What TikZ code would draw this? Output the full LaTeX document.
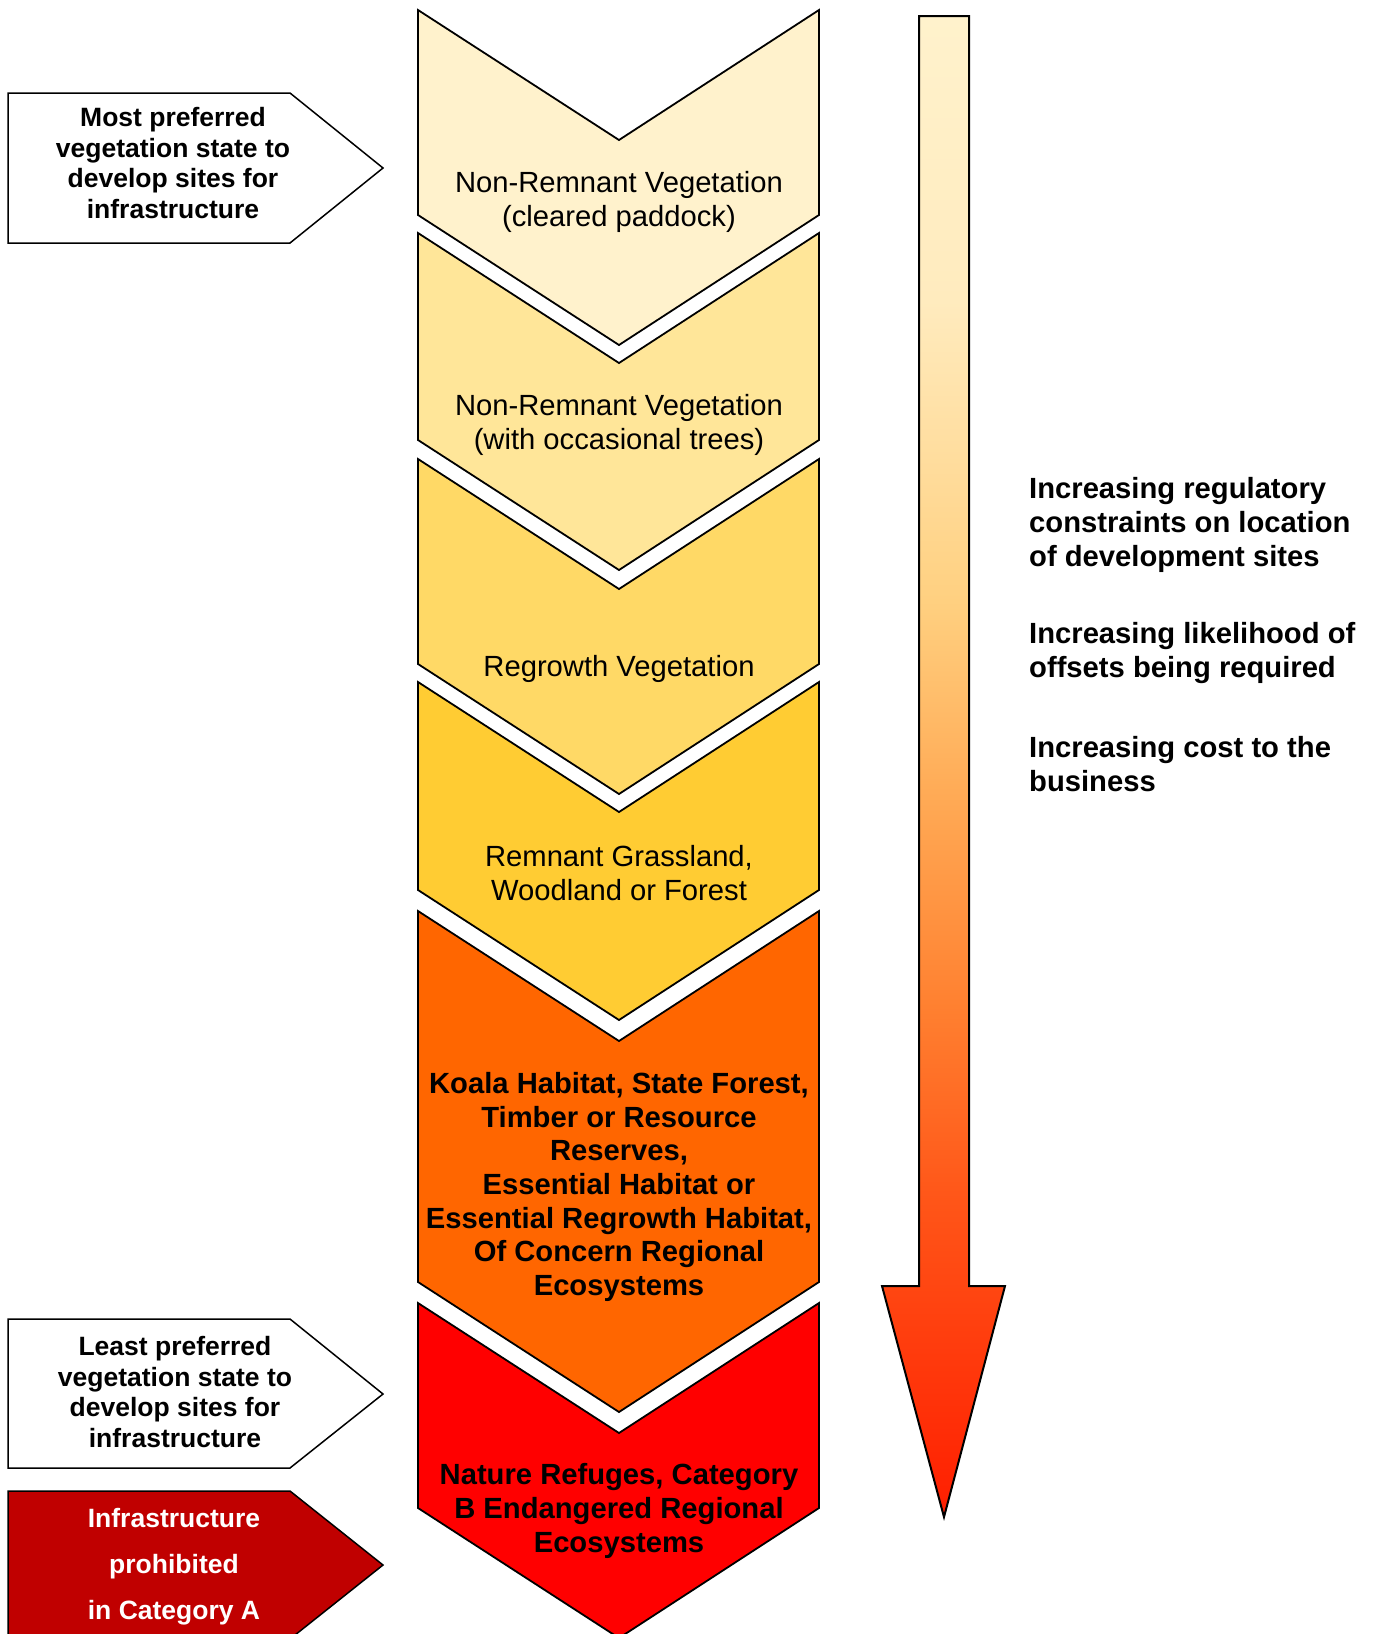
\documentclass[tikz,border=0pt]{standalone}
\usepackage{fontspec}
\setmainfont{Liberation Sans}
\definecolor{cA}{RGB}{255,242,204}
\definecolor{cB}{RGB}{255,230,153}
\definecolor{cC}{RGB}{255,217,102}
\definecolor{cD}{RGB}{255,204,51}
\definecolor{cE}{RGB}{255,102,0}
\definecolor{cF}{RGB}{255,0,0}
\definecolor{cG}{RGB}{192,0,0}
\definecolor{sT}{RGB}{255,242,204}
\definecolor{sa}{RGB}{255,235,190}
\definecolor{sb}{RGB}{255,208,128}
\definecolor{sc}{RGB}{255,170,85}
\definecolor{sd}{RGB}{255,128,48}
\definecolor{se}{RGB}{255,85,24}
\definecolor{sB}{RGB}{255,30,0}
\pgfdeclareverticalshading{arrowshade}{100bp}{color(0bp)=(sB); color(25bp)=(sB); color(35.5bp)=(se); color(42bp)=(sd); color(49bp)=(sc); color(55.5bp)=(sb); color(65.5bp)=(sa); color(75bp)=(sT); color(100bp)=(sT)}
\newcommand\mychev[3]{%
  \draw[chev, fill=#3] (418,#1) -- (619,{#1+130}) -- (819,#1) -- (819,#2) -- (619,{#2+130}) -- (418,#2) -- cycle;}
\begin{document}
\begin{tikzpicture}[x=1pt,y=-1pt,
  chev/.style={draw=black, line width=1.8pt, line join=miter},
  plaintext/.style={align=center, inner sep=0pt, font=\fontsize{29.2}{33.6}\selectfont},
  boldtext/.style={align=center, inner sep=0pt, font=\fontsize{29.2}{33.6}\selectfont\bfseries},
  sidetext/.style={align=left, inner sep=0pt, anchor=west, font=\fontsize{29.2}{33.6}\selectfont\bfseries},
  boxtext/.style={align=center, inner sep=0pt, font=\fontsize{26.5}{30.5}\selectfont\bfseries}]
\useasboundingbox (0,0) rectangle (1374,1634);
\fill[white] (0,0) rectangle (1374,1634);
% chevrons
\mychev{10}{215}{cA}
\mychev{233}{440}{cB}
\mychev{459}{664}{cC}
\mychev{682}{890}{cD}
\mychev{911}{1282}{cE}
\mychev{1303}{1508}{cF}
\node[plaintext] (t1) at (619,202) {Non-Remnant Vegetation\\(cleared paddock)};
\node[plaintext] (t2) at (619,425) {Non-Remnant Vegetation\\(with occasional trees)};
\node[plaintext] (t3) at (619,669) {Regrowth Vegetation};
\node[plaintext] (t4) at (619,873) {Remnant Grassland,\\Woodland or Forest};
\node[boldtext] (t5) at (619,1187) {Koala Habitat, State Forest,\\Timber or Resource\\Reserves,\\Essential Habitat or\\Essential Regrowth Habitat,\\Of Concern Regional\\Ecosystems};
\node[boldtext] (t6) at (619,1511) {Nature Refuges, Category\\B Endangered Regional\\Ecosystems};
% left boxes
\draw[line width=1.5pt, fill=white] (8,93) -- (290,93) -- (383,168) -- (290,243) -- (8,243) -- cycle;
\node[boxtext] (most) at (173,163) {Most preferred\\vegetation state to\\develop sites for\\infrastructure};
\draw[line width=1.5pt, fill=white] (8,1319) -- (290,1319) -- (383,1394) -- (290,1468) -- (8,1468) -- cycle;
\node[boxtext] (least) at (175,1392) {Least preferred\\vegetation state to\\develop sites for\\infrastructure};
\draw[line width=1.5pt, fill=cG] (8,1491) -- (290,1491) -- (383,1565) -- (290,1639) -- (8,1639) -- cycle;
\node[boxtext, text=white, font=\fontsize{26.5}{46}\selectfont\bfseries] (proh) at (174,1567) {Infrastructure\\prohibited\\in Category A};
% big arrow
\draw[line width=2pt, line join=miter, shading=arrowshade] (919,16) -- (969,16) -- (969,1286) -- (1005,1286) -- (944,1517) -- (882,1286) -- (919,1286) -- cycle;
% right texts
\node[sidetext] (r1) at (1029,525) {Increasing regulatory\\constraints on location\\of development sites};
\node[sidetext] (r2) at (1029,653) {Increasing likelihood of\\offsets being required};
\node[sidetext] (r3) at (1029,764) {Increasing cost to the\\business};
\end{tikzpicture}
\end{document}
